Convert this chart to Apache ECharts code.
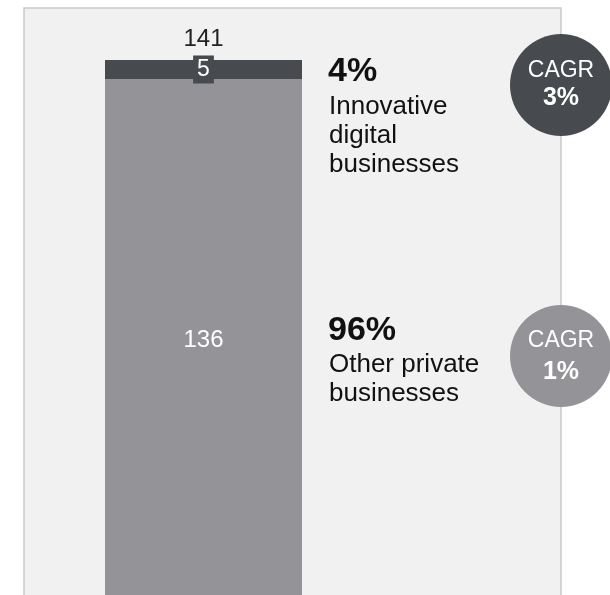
<!DOCTYPE html>
<html lang="en">
<head>
  <meta charset="utf-8">
  <title>Private businesses</title>
  <script src="https://cdn.jsdelivr.net/npm/echarts@6/dist/echarts.min.js"></script>
  <style>
    html, body { margin: 0; height: 100%; background: #fff; }
    #container { width: 610px; height: 595px; }
  </style>
</head>
<body>
  <div id="container"></div>
  <script type="text/javascript">
    // data
    var categories = ['Total'];
    var otherPrivate = [136];
    var innovativeDigital = [5];
    var segmentNames = ['Innovative\ndigital\nbusinesses', 'Other private\nbusinesses'];
    var cagr = ['3%', '1%'];

    var total = otherPrivate[0] + innovativeDigital[0];
    var shareDigital = Math.round(innovativeDigital[0] / total * 100) + '%';
    var shareOther = Math.round(otherPrivate[0] / total * 100) + '%';

    var dark = '#474b4f';
    var grey = '#949397';
    var font = 'Arial, "Liberation Sans", sans-serif';

    var chart = echarts.init(document.getElementById('container'), null, { renderer: 'canvas' });

    function txt(x, y, text, size, bold, color, extra) {
      var style = {
        text: text,
        font: (bold ? 'bold ' : '') + size + 'px ' + font,
        fill: color,
        verticalAlign: 'middle'
      };
      for (var k in extra) style[k] = extra[k];
      return { type: 'text', x: x, y: y, style: style };
    }

    var option = {
      backgroundColor: '#fff',
      animation: false,
      textStyle: { fontFamily: font },
      grid: { left: 105, width: 197, top: 60, height: 564 },
      xAxis: {
        type: 'category',
        data: categories,
        show: false
      },
      yAxis: {
        type: 'value',
        min: 0,
        max: total,
        show: false
      },
      graphic: [
        {
          type: 'rect',
          z: -10,
          shape: { x: 24, y: 8, width: 537, height: 600 },
          style: { fill: '#f1f1f1', stroke: '#c9c9c9', lineWidth: 1.5 }
        },
        txt(328, 72, shareDigital, 34, true, '#111'),
        txt(329, 92.5, segmentNames[0], 26, false, '#111', { lineHeight: 29, verticalAlign: 'top' }),
        txt(328, 331, shareOther, 34, true, '#111'),
        txt(329, 350.5, segmentNames[1], 26, false, '#111', { lineHeight: 29, verticalAlign: 'top' }),
        {
          type: 'circle',
          shape: { cx: 561, cy: 85, r: 51 },
          style: { fill: dark }
        },
        txt(561, 71, 'CAGR', 23, false, '#fff', { align: 'center' }),
        txt(561, 98, cagr[0], 25, true, '#fff', { align: 'center' }),
        {
          type: 'circle',
          shape: { cx: 561, cy: 356, r: 51 },
          style: { fill: grey }
        },
        txt(561, 341, 'CAGR', 23, false, '#fff', { align: 'center' }),
        txt(561, 372, cagr[1], 25, true, '#fff', { align: 'center' })
      ],
      series: [
        {
          name: 'Other private businesses',
          type: 'bar',
          stack: 'total',
          barWidth: '100%',
          data: otherPrivate,
          itemStyle: { color: grey },
          label: {
            show: true,
            position: 'inside',
            offset: [0, 3],
            color: '#fff',
            fontSize: 24,
            fontFamily: font
          }
        },
        {
          name: 'Innovative digital businesses',
          type: 'bar',
          stack: 'total',
          barWidth: '100%',
          data: innovativeDigital,
          itemStyle: { color: dark },
          label: {
            show: true,
            position: 'inside',
            color: '#fff',
            fontSize: 23,
            fontFamily: font,
            backgroundColor: dark,
            padding: [3, 4, 2, 4]
          }
        },
        {
          name: 'Total',
          type: 'bar',
          stack: 'total',
          barWidth: '100%',
          data: [0],
          label: {
            show: true,
            position: 'top',
            distance: 9,
            formatter: function () { return String(total); },
            color: '#222',
            fontSize: 24,
            fontFamily: font
          }
        }
      ]
    };

    chart.setOption(option);
    window.addEventListener('resize', chart.resize);
  </script>
</body>
</html>
